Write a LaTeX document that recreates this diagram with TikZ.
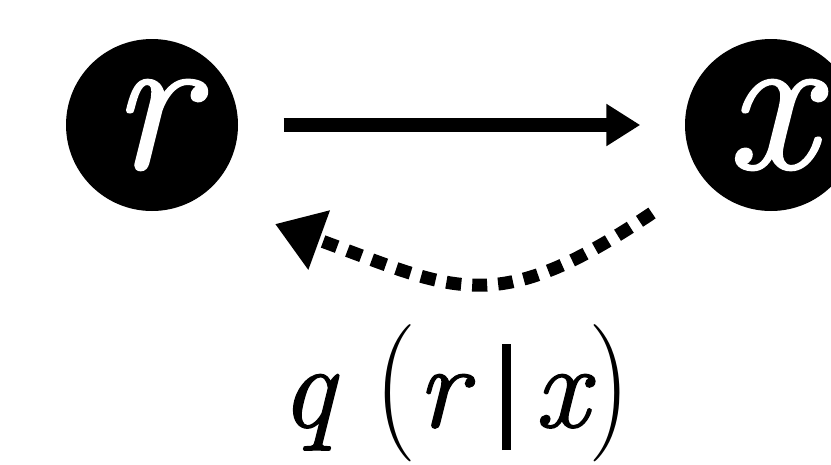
\documentclass[tikz,border=0pt]{standalone}
\usepackage{graphicx}
\usepackage{fontspec}
\setmainfont{Latin Modern Roman}[ItalicFeatures={FakeBold=1.2}]
\usetikzlibrary{arrows.meta}

\begin{document}
\begin{tikzpicture}[
	var/.style={circle, fill=black, text=white, minimum size=1.72cm, inner sep=0pt, font=\fontsize{57}{57}\selectfont\itshape},
	gen/.style={line width=0.14cm, -{Triangle[length=0.34cm,width=0.40cm]}, shorten <=0.45cm, shorten >=0.44cm},
	infer/.style={line width=0.13cm, dash pattern=on 0.15cm off 0.11cm, -{Triangle[length=0.47cm,width=0.60cm]}},
	post/.style={font=\fontsize{34}{34}\selectfont, inner sep=0pt}]

	\useasboundingbox (0,0) rectangle (8.31,4.64);

	% Nodes
	\node[var] (r) at (1.52,3.39) {r};
	\node[var] (x) at (7.71,3.39) {x};
	\node[post, anchor=base west] (q) at (2.80,0.37) {\textit{q}\hspace{0.36cm}\scalebox{1}[1.15]{(}\hspace{0.0cm}\textit{r}\hspace{0.27cm}\rule[-0.23cm]{0.09cm}{1.06cm}\hspace{0.24cm}\textit{x}\hspace{-0.06cm}\scalebox{1}[1.15]{)}};

	% Ends of the inference arrow
	\coordinate (inf-start) at ([shift={(-1.19,-0.88)}]x.center);
	\coordinate (inf-end) at ([shift={(1.23,-0.99)}]r.center);

	% Edges
	\draw[gen] (r) -- (x);
	\draw[infer] (inf-start) to[out=214, in=-20, looseness=1.3] (inf-end);
\end{tikzpicture}
\end{document}
